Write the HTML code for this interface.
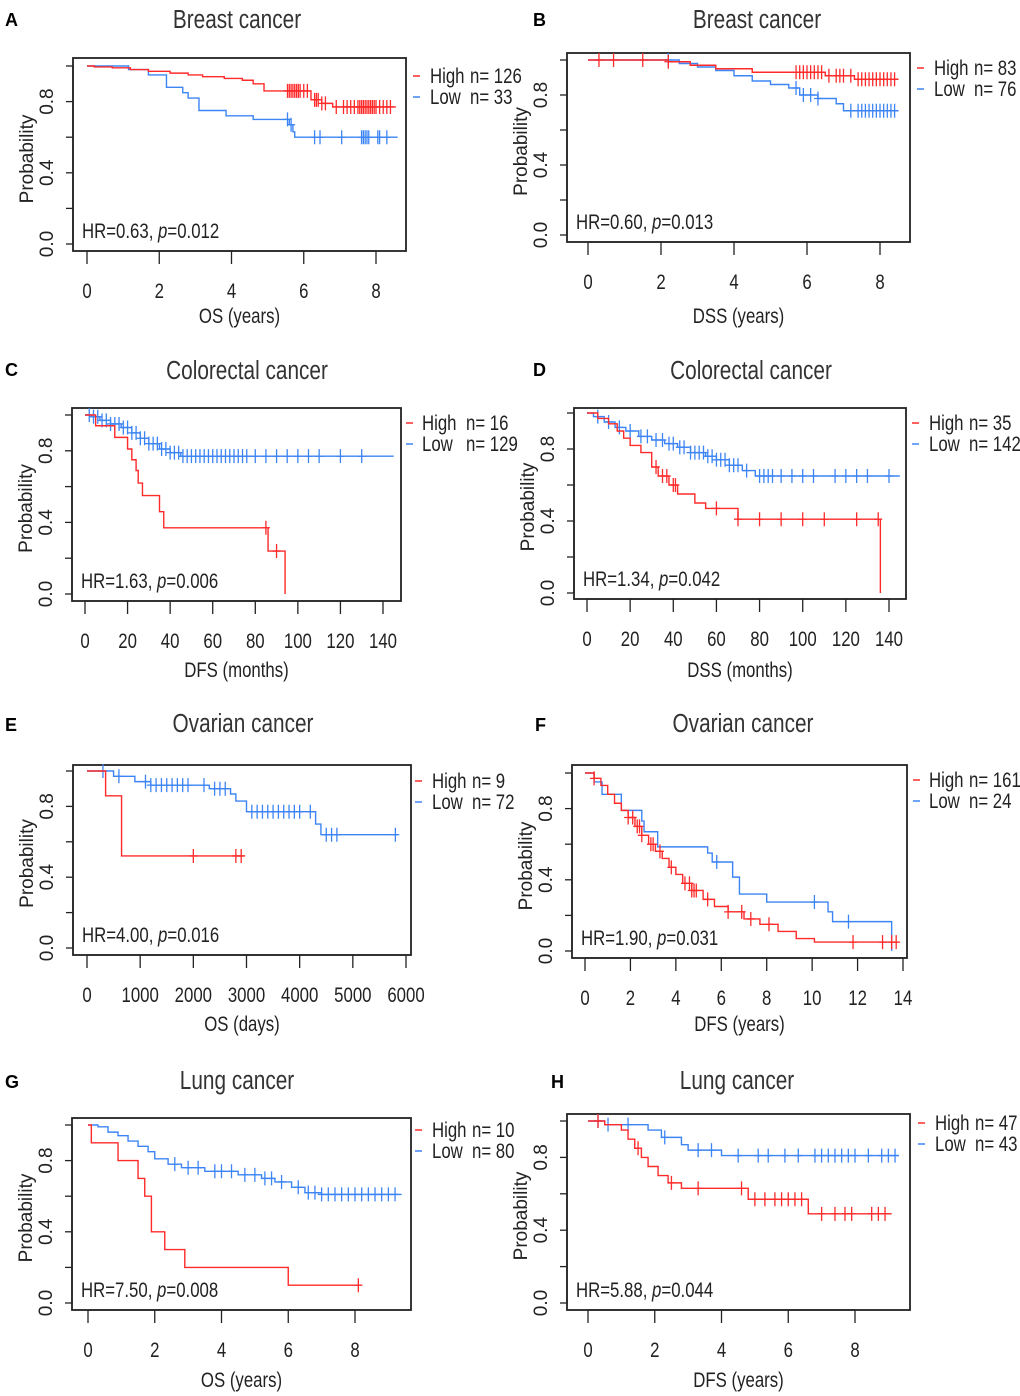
<!DOCTYPE html>
<html><head><meta charset="utf-8"><style>
html,body{margin:0;padding:0;background:#fff;}
svg{display:block;font-family:"Liberation Sans",sans-serif;}
</style></head><body>
<svg id="fig" width="1020" height="1396" viewBox="0 0 1020 1396" xmlns="http://www.w3.org/2000/svg"></svg>
<script>
// ---- data (time, survival steps; censor times) ----
const A_high_t=[0.2,0.7,1.2,1.7,2.3,2.8,3.2,3.8,4.3,4.6,4.9,6.2,6.5,6.8];
const A_high_s=[0.995,0.99,0.98,0.97,0.96,0.95,0.94,0.93,0.92,0.9,0.86,0.81,0.79,0.77];
const A_high_c=[5.55,5.6,5.65,5.7,5.75,5.8,5.85,5.9,6.0,6.1,6.3,6.35,6.4,6.5,6.6,6.9,7.1,7.2,7.3,7.4,7.5,7.55,7.6,7.65,7.7,7.75,7.8,7.85,7.9,7.95,8.0,8.1,8.2,8.3,8.4];
const A_high_end=8.55;
const A_low_t=[1.15,1.7,2.2,2.65,2.8,3.1,3.85,4.6,5.6,5.7,5.75];
const A_low_s=[0.98,0.95,0.88,0.85,0.82,0.75,0.72,0.7,0.67,0.63,0.6];
const A_low_c=[5.55,5.65,6.3,6.45,7.05,7.6,7.65,7.7,7.75,7.8,8.05,8.1,8.3];
const A_low_end=8.6;

const B_high_t=[2.2,2.8,3.5,4.5,6.5,7.3];
const B_high_s=[0.99,0.97,0.95,0.93,0.91,0.89];
const B_high_c=[0.3,0.7,1.5,2.2,5.7,5.8,5.9,6.0,6.1,6.2,6.3,6.4,6.6,6.8,6.9,7.0,7.2,7.4,7.5,7.6,7.7,7.8,7.9,8.0,8.1,8.2,8.3,8.4];
const B_high_end=8.5;
const B_low_t=[2.5,3,3.5,4,4.5,5,5.5,5.8,6.3,6.8,7];
const B_low_s=[0.98,0.96,0.94,0.91,0.88,0.86,0.84,0.8,0.78,0.75,0.71];
const B_low_c=[2.2,5.7,5.9,6.1,6.3,7.2,7.4,7.5,7.6,7.7,7.8,7.9,8.0,8.1,8.2,8.3,8.4];
const B_low_end=8.5;

const C_high_t=[5,14,20,22,24,25,27,35,37,86,94];
const C_high_s=[0.94,0.875,0.81,0.75,0.69,0.62,0.55,0.46,0.37,0.24,0];
const C_high_c=[85,90];
const C_high_end=94;
const C_low_t=[3,7,12,17,22,26,30,35,40,45];
const C_low_s=[0.99,0.97,0.95,0.93,0.9,0.87,0.84,0.81,0.79,0.77];
const C_low_c=[2,4,6,8,10,12,14,16,18,20,22,24,26,28,30,32,34,36,38,40,42,44,46,48,50,52,54,56,58,60,62,64,66,68,70,72,74,76,80,85,90,95,100,105,110,120,130];
const C_low_end=145;

const D_high_t=[5,10,14,17,20,25,30,33,38,42,50,55,70,136];
const D_high_s=[0.97,0.94,0.9,0.86,0.82,0.78,0.7,0.65,0.6,0.55,0.5,0.47,0.41,0];
const D_high_c=[32,35,37,40,41,60,70,80,90,100,110,125,135];
const D_high_end=136;
const D_low_t=[3,8,13,18,24,30,36,42,48,55,60,66,72,78];
const D_low_s=[0.98,0.95,0.92,0.9,0.87,0.85,0.83,0.81,0.78,0.76,0.74,0.71,0.68,0.65];
const D_low_c=[5,10,15,20,25,28,32,35,38,40,43,45,48,50,52,54,56,58,60,62,64,66,68,70,74,80,82,84,86,90,95,100,105,115,120,125,130,140];
const D_low_end=145;

const E_high_t=[350,650];
const E_high_s=[0.86,0.52];
const E_high_c=[2000,2800,2900];
const E_high_end=2950;
const E_low_t=[500,900,1200,2300,2700,2800,3000,4300,4400];
const E_low_s=[0.97,0.94,0.92,0.9,0.87,0.83,0.77,0.7,0.64];
const E_low_c=[300,600,1100,1200,1300,1400,1500,1600,1700,1800,1900,2200,2400,2500,2600,3100,3200,3300,3400,3500,3600,3700,3800,3900,4000,4200,4500,4600,4700,5800];
const E_low_end=5850;

const F_high_t=[0.4,0.7,1,1.3,1.6,1.9,2.2,2.5,2.8,3.1,3.4,3.7,4,4.3,4.7,5.2,5.7,6.3,7,7.7,8.5,9.3,10.1];
const F_high_s=[0.97,0.93,0.88,0.83,0.79,0.75,0.7,0.65,0.6,0.56,0.52,0.47,0.43,0.38,0.34,0.29,0.25,0.22,0.18,0.15,0.11,0.07,0.05];
const F_high_c=[0.4,1.9,2.1,2.3,2.4,2.5,2.9,3.0,3.3,3.8,4.4,4.6,4.7,4.8,4.9,5.4,6.3,6.9,7.3,8.1,11.8,13.1,13.5,13.7];
const F_high_end=13.8;
const F_low_t=[0.4,0.75,1.6,2.5,2.6,3.2,5.4,5.6,6.5,6.8,8,10.7,10.9,13.5];
const F_low_s=[0.95,0.88,0.79,0.73,0.67,0.585,0.55,0.5,0.415,0.32,0.275,0.22,0.165,0];
const F_low_c=[5.8,10.1,11.6];
const F_low_end=13.5;

const G_high_t=[0.1,0.9,1.5,1.7,1.9,2.3,2.9,6];
const G_high_s=[0.9,0.8,0.7,0.6,0.4,0.3,0.2,0.1];
const G_high_c=[8.1];
const G_high_end=8.1;
const G_low_t=[0.3,0.6,0.9,1.2,1.5,1.8,2.0,2.4,2.8,3.5,4.5,5.2,5.6,6.1,6.5,7];
const G_low_s=[0.99,0.96,0.94,0.91,0.88,0.85,0.81,0.78,0.76,0.74,0.72,0.7,0.68,0.65,0.62,0.61];
const G_low_c=[2.6,3.0,3.3,3.8,4.0,4.3,4.7,5.0,5.3,5.5,5.8,6.3,6.6,6.8,7.0,7.2,7.4,7.6,7.8,8.0,8.2,8.4,8.6,8.8,9.0,9.2];
const G_low_end=9.4;

const H_high_t=[0.5,1,1.2,1.4,1.6,1.8,2.1,2.4,2.8,4.8,6.6];
const H_high_s=[0.98,0.95,0.9,0.85,0.8,0.75,0.7,0.66,0.63,0.57,0.49];
const H_high_c=[0.3,1.5,2.5,3.3,4.6,5.0,5.3,5.6,5.8,6.0,6.2,6.4,7.0,7.4,7.7,7.9,8.5,8.7,8.9];
const H_high_end=9.1;
const H_low_t=[0.5,1.8,2.2,2.8,3.0,4];
const H_low_s=[0.98,0.95,0.91,0.87,0.84,0.81];
const H_low_c=[0.3,0.6,1.2,2.3,3.3,3.7,4.5,5.1,5.4,5.9,6.3,6.8,7.0,7.2,7.4,7.6,7.8,8.0,8.4,8.8,9.0,9.2];
const H_low_end=9.3;

const A_xticks=[0,2,4,6,8], C_xticks=[0,20,40,60,80,100,120,140], E_xticks=[0,1000,2000,3000,4000,5000,6000], F_xticks=[0,2,4,6,8,10,12,14];

const panels=[
 {id:'A',lx:5,ly:20,title:'Breast cancer',tx:237,ty:27,box:[73,58,406,251],xr:[0,8],xp:[87,376],yp:[244,66],ticks:A_xticks,xl:'OS (years)',xly:323,hr:'HR=0.63, ',pv:'0.012',nh:'126',nl:'33',leg:[413,430,470,76],hi:[A_high_t,A_high_s,A_high_c,A_high_end],lo:[A_low_t,A_low_s,A_low_c,A_low_end]},
 {id:'B',lx:533,ly:20,title:'Breast cancer',tx:757,ty:27,box:[567,53,910,242],xr:[0,8],xp:[588,880],yp:[235,60],ticks:A_xticks,xl:'DSS (years)',xly:323,hr:'HR=0.60, ',pv:'0.013',nh:'83',nl:'76',leg:[917,934,974,68],hi:[B_high_t,B_high_s,B_high_c,B_high_end],lo:[B_low_t,B_low_s,B_low_c,B_low_end]},
 {id:'C',lx:5,ly:370,title:'Colorectal cancer',tx:247,ty:378,box:[72,408,401,601],xr:[0,140],xp:[85,383],yp:[594,415],ticks:C_xticks,xl:'DFS (months)',xly:677,hr:'HR=1.63, ',pv:'0.006',nh:'16',nl:'129',leg:[406,422,466,423],hi:[C_high_t,C_high_s,C_high_c,C_high_end],lo:[C_low_t,C_low_s,C_low_c,C_low_end]},
 {id:'D',lx:533,ly:370,title:'Colorectal cancer',tx:751,ty:378,box:[574,408,906,599],xr:[0,140],xp:[587,889],yp:[593,413],ticks:C_xticks,xl:'DSS (months)',xly:677,hr:'HR=1.34, ',pv:'0.042',nh:'35',nl:'142',leg:[912,929,969,423],hi:[D_high_t,D_high_s,D_high_c,D_high_end],lo:[D_low_t,D_low_s,D_low_c,D_low_end]},
 {id:'E',lx:5,ly:725,title:'Ovarian cancer',tx:243,ty:731,box:[73,765,411,955],xr:[0,6000],xp:[87,406],yp:[948,771],ticks:E_xticks,xl:'OS (days)',xly:1031,hr:'HR=4.00, ',pv:'0.016',nh:'9',nl:'72',leg:[415,432,472,781],hi:[E_high_t,E_high_s,E_high_c,E_high_end],lo:[E_low_t,E_low_s,E_low_c,E_low_end]},
 {id:'F',lx:535,ly:725,title:'Ovarian cancer',tx:743,ty:731,box:[572,765,907,958],xr:[0,14],xp:[585,903],yp:[951,773],ticks:F_xticks,xl:'DFS (years)',xly:1031,hr:'HR=1.90, ',pv:'0.031',nh:'161',nl:'24',leg:[913,929,969,780],hi:[F_high_t,F_high_s,F_high_c,F_high_end],lo:[F_low_t,F_low_s,F_low_c,F_low_end]},
 {id:'G',lx:5,ly:1082,title:'Lung cancer',tx:237,ty:1088,box:[72,1118,411,1310],xr:[0,8],xp:[88,355],yp:[1303,1125],ticks:A_xticks,xl:'OS (years)',xly:1387,hr:'HR=7.50, ',pv:'0.008',nh:'10',nl:'80',leg:[415,432,472,1130],hi:[G_high_t,G_high_s,G_high_c,G_high_end],lo:[G_low_t,G_low_s,G_low_c,G_low_end]},
 {id:'H',lx:551,ly:1082,title:'Lung cancer',tx:737,ty:1088,box:[567,1114,910,1310],xr:[0,8],xp:[588,855],yp:[1303,1121],ticks:A_xticks,xl:'DFS (years)',xly:1387,hr:'HR=5.88, ',pv:'0.044',nh:'47',nl:'43',leg:[918,935,975,1123],hi:[H_high_t,H_high_s,H_high_c,H_high_end],lo:[H_low_t,H_low_s,H_low_c,H_low_end]}
];
const RED='#ff2a2a', BLUE='#3d85f5';
const NS='http://www.w3.org/2000/svg';
const svg=document.getElementById('fig');
function mk(tag,attrs,parent,text){const e=document.createElementNS(NS,tag);for(const k in attrs)e.setAttribute(k,attrs[k]);if(text!==undefined)e.textContent=text;(parent||svg).appendChild(e);return e;}
function cond(parent,x,y,str,size,anchor,fill){
  const g=mk('g',{transform:`translate(${x},${y}) scale(0.8,1)`},parent);
  return mk('text',{x:0,y:0,'font-size':size,'text-anchor':anchor||'start',fill:fill||'#333'},g,str);
}
panels.forEach(p=>{
  const g=mk('g',{});
  
  
  const X=v=>p.xp[0]+(v-p.xr[0])/(p.xr[1]-p.xr[0])*(p.xp[1]-p.xp[0]);
  const Y=s=>p.yp[0]+s*(p.yp[1]-p.yp[0]);
  const lt=mk('text',{x:p.lx,y:p.ly+6,'font-size':18,'font-weight':'bold',fill:'#000'},g,p.id);
  
  const tt=cond(g,p.tx,p.ty+1,p.title,26,'middle','#333');
  
  const [bx0,by0,bx1,by1]=p.box;
  const bx=mk('rect',{x:bx0,y:by0,width:bx1-bx0,height:by1-by0,fill:'none',stroke:'#222','stroke-width':1.8},g);
  
  [0,0.2,0.4,0.6,0.8,1].forEach(v=>{const t=mk('line',{x1:bx0-7,x2:bx0,y1:Y(v),y2:Y(v),stroke:'#222','stroke-width':1.3},g);});
  mk('line',{x1:bx0,x2:bx0,y1:Y(0),y2:Y(1),stroke:'#222','stroke-width':1.3},g);
  [0,0.4,0.8].forEach(v=>{const t=mk('text',{transform:`translate(${bx0-20},${Y(v)}) rotate(-90)`,'font-size':19,'text-anchor':'middle',fill:'#222'},g,v.toFixed(1));});
  const yt=mk('text',{transform:`translate(${bx0-40},${(Y(0)+Y(1))/2+4}) rotate(-90)`,'font-size':19,'text-anchor':'middle',fill:'#222'},g,'Probability');
  
  mk('line',{x1:X(p.ticks[0]),x2:X(p.ticks[p.ticks.length-1]),y1:by1,y2:by1,stroke:'#222','stroke-width':1.3},g);
  p.ticks.forEach(v=>{
    const t=mk('line',{x1:X(v),x2:X(v),y1:by1,y2:by1+13,stroke:'#222','stroke-width':1.3},g);
    const l=cond(g,X(v),by1+47,String(v),21,'middle','#222');
  });
  const xt=cond(g,(bx0+bx1)/2,p.xly,p.xl,21,'middle','#222');
  
  const hg=mk('g',{transform:`translate(${bx0+9},${by1-13}) scale(0.8,1)`},g);
  const ht=mk('text',{x:0,y:0,'font-size':21,fill:'#222'},hg);
  
  mk('tspan',{},ht,p.hr);mk('tspan',{'font-style':'italic'},ht,'p');mk('tspan',{},ht,'='+p.pv);
  [[p.lo,BLUE,'low'],[p.hi,RED,'high']].forEach(([d,col,nm])=>{
    const [ts,ss,cs,end]=d;
    let path=`M${X(0)},${Y(1)}`;
    ts.forEach((t,i)=>{path+=` H${X(t)} V${Y(ss[i])}`;});
    path+=` H${X(end)}`;
    const pe=mk('path',{d:path,fill:'none',stroke:col,'stroke-width':1.4},g);
    
    const sAt=t=>{let s=1;ts.forEach((tt,i)=>{if(tt<=t)s=ss[i];});return s;};
    cs.forEach(c=>{const cx=X(c),cy=Y(sAt(c));
      const m=mk('path',{d:`M${cx},${cy-7}V${cy+7}M${cx-4},${cy}H${cx+4}`,stroke:col,'stroke-width':1.3,fill:'none'},g);
      });
  });
  const [lx,tx1,tx2,ly]=p.leg;
  [['High',p.nh,RED,0],['Low',p.nl,BLUE,21]].forEach(([lab,n,col,dy])=>{
    const le=mk('g',{},g);
    mk('line',{x1:lx,x2:lx+7,y1:ly+dy,y2:ly+dy,stroke:col,'stroke-width':1.5},le);
    cond(le,tx1,ly+dy+7,lab,21,'start','#222');
    cond(le,tx2,ly+dy+7,'n= '+n,21,'start','#222');
  });
});
</script>
</body></html>
